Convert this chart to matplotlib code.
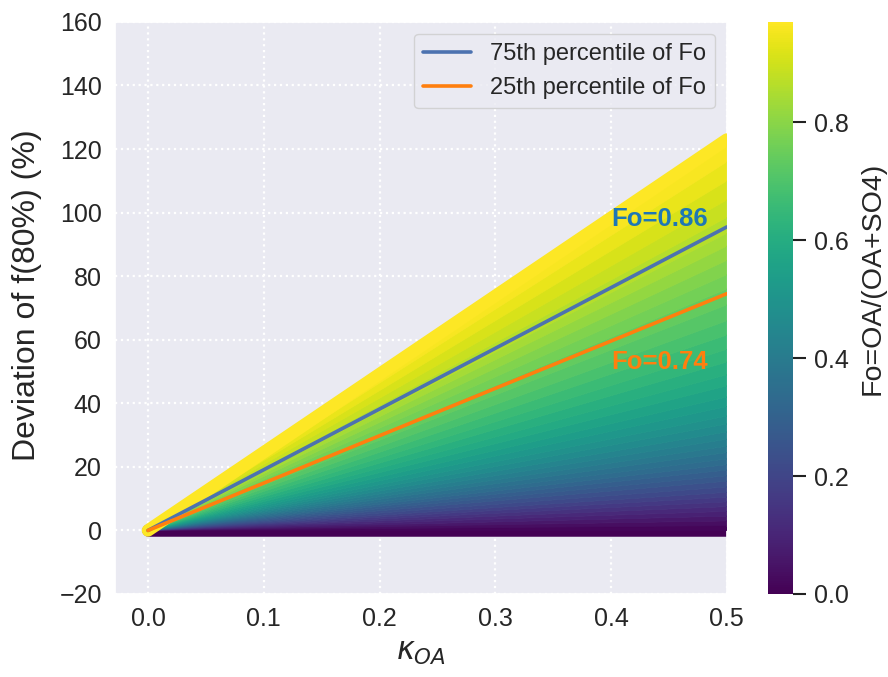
import numpy as np
import matplotlib
matplotlib.use("Agg")
import matplotlib.pyplot as plt
import seaborn as sns

fo_levels = [0.000, 0.025, 0.050, 0.075, 0.100, 0.125, 0.150, 0.175, 0.200, 0.225,
             0.250, 0.275, 0.300, 0.325, 0.350, 0.375, 0.400, 0.425, 0.450, 0.475,
             0.500, 0.525, 0.550, 0.575, 0.600, 0.625, 0.650, 0.675, 0.700, 0.725,
             0.750, 0.775, 0.800, 0.825, 0.850, 0.875, 0.900, 0.925, 0.950, 0.970]
dev_at_end = [0.0, 1.5, 3.0, 4.5, 6.0, 7.5, 9.0, 10.5, 12.0, 13.7,
              15.5, 17.2, 19.0, 20.7, 22.5, 24.5, 26.5, 28.7, 31.0, 33.5,
              36.0, 39.0, 42.0, 45.5, 49.0, 53.0, 57.0, 61.5, 66.0, 71.0,
              76.0, 80.5, 85.0, 89.5, 93.5, 98.5, 104.0, 110.0, 116.0, 123.0]
kappa_range = [0.0, 0.5]

p75_fo = 0.86
p75_dev = [0.0, 95.5]
p25_fo = 0.74
p25_dev = [0.0, 74.5]

sns.set_theme(style="darkgrid")
plt.rcParams['font.family'] = ['Liberation Sans', 'DejaVu Sans']
plt.rcParams['grid.linestyle'] = ':'
plt.rcParams['grid.linewidth'] = 1.6
plt.rcParams['grid.color'] = 'white'

cmap = plt.get_cmap('viridis')
norm = matplotlib.colors.Normalize(vmin=0.0, vmax=0.97)

fig = plt.figure(figsize=(8.88, 6.77), dpi=100)
ax = fig.add_axes([0.1295, 0.1226, 0.689, 0.845])
cax = fig.add_axes([0.865, 0.1226, 0.028, 0.845])

# thick bottom edge line (Fo = 0)
ax.plot(kappa_range, [0.0, dev_at_end[0]], color=cmap(norm(fo_levels[0])),
        lw=9, solid_capstyle='round', zorder=2)

# bands between neighbouring Fo levels
for i in range(len(fo_levels) - 1):
    mid = 0.5 * (fo_levels[i] + fo_levels[i + 1])
    c = cmap(norm(mid))
    ax.fill([kappa_range[0], kappa_range[1], kappa_range[1]],
            [0.0, dev_at_end[i], dev_at_end[i + 1]],
            color=c, lw=0.6, ec=c, zorder=3)

# thick top edge line (highest Fo)
ax.plot(kappa_range, [0.0, dev_at_end[-1]], color=cmap(norm(fo_levels[-1])),
        lw=9, solid_capstyle='round', zorder=4)

ax.plot(kappa_range, p75_dev, color='#4c72b0', lw=2.6, zorder=5,
        label='75th percentile of Fo')
ax.plot(kappa_range, p25_dev, color='#ff7f0e', lw=2.6, zorder=5,
        label='25th percentile of Fo')

ax.text(0.4, 98, 'Fo=%.2f' % p75_fo, color='#1f77b4', fontsize=18.5,
        fontweight='bold', va='center', ha='left', zorder=6)
ax.text(0.4, 53, 'Fo=%.2f' % p25_fo, color='#ff7f0e', fontsize=18.5,
        fontweight='bold', va='center', ha='left', zorder=6)

ax.set_xlim(-0.0285, 0.5)
ax.set_ylim(-20, 160)
ax.set_xticks([0.0, 0.1, 0.2, 0.3, 0.4, 0.5])
ax.set_yticks(range(-20, 161, 20))
ax.tick_params(labelsize=18)
ax.set_xlabel(r'$\kappa_{OA}$', fontsize=22)
ax.set_ylabel('Deviation of f(80%) (%)', fontsize=23)
ax.yaxis.set_label_coords(-0.12, 0.523)
ax.legend(loc='upper right', fontsize=17, frameon=True, facecolor='#eaeaf2',
          edgecolor='#cccccc', handlelength=2.0)

sm = matplotlib.cm.ScalarMappable(norm=norm, cmap=cmap)
cb = fig.colorbar(sm, cax=cax)
cb.outline.set_visible(False)
cb.set_ticks([0.0, 0.2, 0.4, 0.6, 0.8])
cb.ax.tick_params(labelsize=18, length=9, width=1.5, pad=6, color='#222222')
fig.text(873 / 888, 1 - 278 / 677, 'Fo=OA/(OA+SO4)', fontsize=20.5,
         rotation=90, ha='center', va='center', color='#262626')

fig.savefig('out.png', dpi=100)
